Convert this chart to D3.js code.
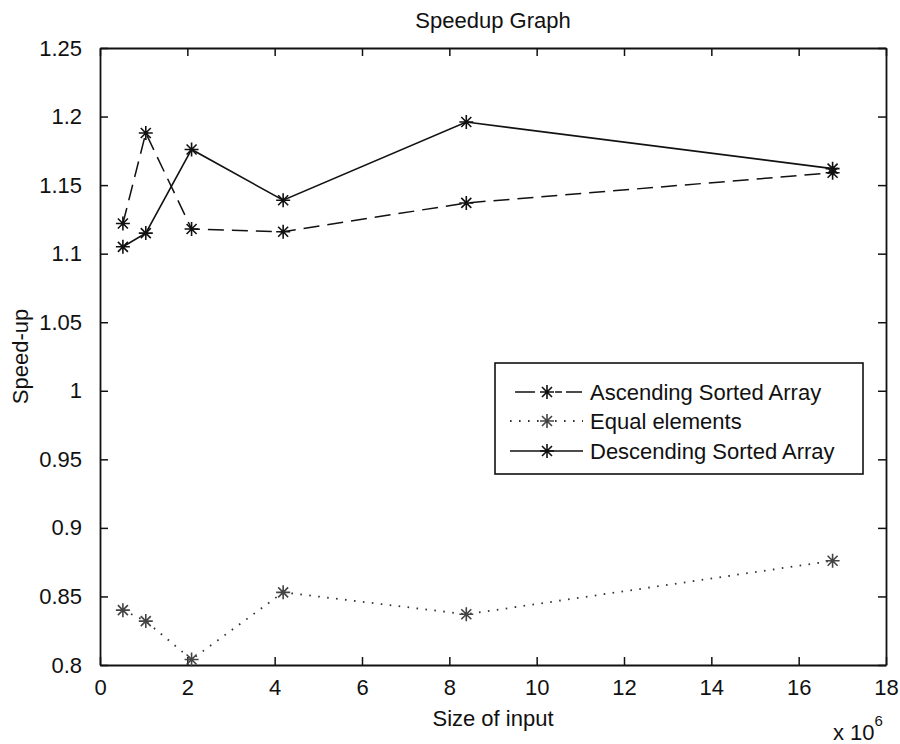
<!DOCTYPE html>
<html>
<head>
<meta charset="utf-8">
<script src="https://cdn.jsdelivr.net/npm/d3@7"></script>
<style>
body { margin: 0; background: #fff; }
text { font-family: "Liberation Sans", Arial, sans-serif; fill: #111; }
</style>
</head>
<body>
<svg width="900" height="744"></svg>
<script>
// input sizes in millions (2^19 .. 2^24)
const sizes = [0.524288, 1.048576, 2.097152, 4.194304, 8.388608, 16.777216];
const ascending = [1.122, 1.188, 1.118, 1.116, 1.137, 1.159];
const equalElems = [0.840, 0.832, 0.804, 0.853, 0.837, 0.876];
const descending = [1.105, 1.115, 1.176, 1.139, 1.196, 1.162];
const xTicks = d3.range(0, 19, 2);
const yTicks = [0.8, 0.85, 0.9, 0.95, 1, 1.05, 1.1, 1.15, 1.2, 1.25];
const seriesNames = ["Ascending Sorted Array", "Equal elements", "Descending Sorted Array"];

const svg = d3.select("svg");
const pL = 100, pR = 886, pT = 48, pB = 665;
const fs = 22;

let x = d3.scaleLinear().domain([0, 18]).range([pL, pR]);
let y = d3.scaleLinear().domain([0.8, 1.25]).range([pB, pT]);

// axes (box with inward ticks on all sides)
const tk = 8;
svg.append("g").attr("transform", `translate(0,${pB})`)
  .call(d3.axisBottom(x).tickValues(xTicks).tickSizeInner(-tk).tickSizeOuter(0).tickPadding(14).tickFormat(d3.format("d")));
svg.append("g").attr("transform", `translate(0,${pT})`)
  .call(d3.axisTop(x).tickValues(xTicks).tickSizeInner(-tk).tickSizeOuter(0).tickFormat(""));
svg.append("g").attr("transform", `translate(${pL},0)`)
  .call(d3.axisLeft(y).tickValues(yTicks).tickSizeInner(-tk).tickSizeOuter(0).tickPadding(18).tickFormat(d => String(+d.toFixed(2))));
svg.append("g").attr("transform", `translate(${pR},0)`)
  .call(d3.axisRight(y).tickValues(yTicks).tickSizeInner(-tk).tickSizeOuter(0).tickFormat(""));

svg.selectAll(".domain").attr("stroke", "#111").attr("stroke-width", 1.8);
svg.selectAll(".tick line").attr("stroke", "#111").attr("stroke-width", 1.5);
svg.selectAll(".tick text").attr("font-size", fs).attr("font-family", "Liberation Sans, Arial, sans-serif").attr("fill", "#111");

// titles
svg.append("text").attr("x", (pL + pR) / 2).attr("y", 28).attr("text-anchor", "middle")
  .attr("font-size", fs).text("Speedup Graph");
svg.append("text").attr("x", (pL + pR) / 2).attr("y", 726).attr("text-anchor", "middle")
  .attr("font-size", fs).text("Size of input");
svg.append("text").attr("transform", `translate(28,${(pT + pB) / 2}) rotate(-90)`)
  .attr("text-anchor", "middle").attr("font-size", fs).text("Speed-up");
let mult = svg.append("text").attr("x", 833).attr("y", 740).attr("font-size", fs);
mult.append("tspan").text("x 10");
mult.append("tspan").attr("dy", -14).attr("font-size", 15).text("6");

// star marker like matlab '*'
function star(g, cx, cy, col) {
  const a = 7, b = 5;
  const p = `M${cx - a},${cy}L${cx + a},${cy}M${cx},${cy - a}L${cx},${cy + a}` +
    `M${cx - b},${cy - b}L${cx + b},${cy + b}M${cx - b},${cy + b}L${cx + b},${cy - b}`;
  g.append("path").attr("d", p).attr("stroke", col).attr("stroke-width", 1.6).attr("fill", "none");
}

const styles = [
  { data: ascending, dash: "16,8", col: "#111", mcol: "#111", w: 1.5 },
  { data: equalElems, dash: "1.6,7.4", col: "#333", mcol: "#444", w: 1.8 },
  { data: descending, dash: null, col: "#111", mcol: "#111", w: 1.6 }
];

const line = d3.line().x(d => x(d[0])).y(d => y(d[1]));

styles.forEach(s => {
  const pts = sizes.map((v, i) => [v, s.data[i]]);
  svg.append("path").datum(pts).attr("d", line).attr("fill", "none")
    .attr("stroke", s.col).attr("stroke-width", s.w)
    .attr("stroke-dasharray", s.dash);
  const g = svg.append("g");
  pts.forEach(p => star(g, x(p[0]), y(p[1]), s.mcol));
});

// legend
const lg = svg.append("g");
lg.append("rect").attr("x", 495).attr("y", 363).attr("width", 368).attr("height", 111)
  .attr("fill", "#fff").attr("stroke", "#111").attr("stroke-width", 1.6);
const rowY = [392, 421, 451];
styles.forEach((s, i) => {
  const yy = rowY[i];
  if (i === 0) {
    lg.append("line").attr("x1", 515).attr("x2", 535).attr("y1", yy).attr("y2", yy).attr("stroke", s.col).attr("stroke-width", s.w);
    lg.append("line").attr("x1", 555).attr("x2", 583).attr("y1", yy).attr("y2", yy).attr("stroke", s.col).attr("stroke-width", s.w).attr("stroke-dasharray", "7,4,16");
  } else {
    lg.append("line").attr("x1", 510).attr("x2", 583).attr("y1", yy).attr("y2", yy)
      .attr("stroke", s.col).attr("stroke-width", s.w).attr("stroke-dasharray", s.dash);
  }
  star(lg, 547, yy, s.mcol);
  lg.append("text").attr("x", 590).attr("y", yy + 8).attr("font-size", fs).text(seriesNames[i]);
});
</script>
</body>
</html>
